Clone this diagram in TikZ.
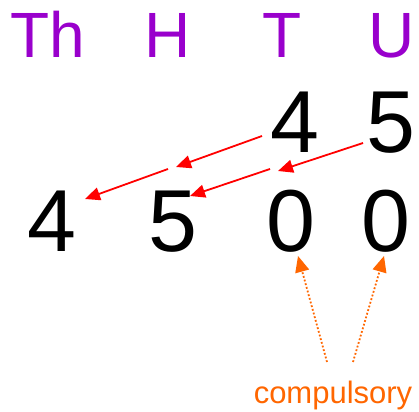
\documentclass[tikz,border=0pt]{standalone}
\usepackage{fontspec}
\setmainfont{Liberation Sans}
\usetikzlibrary{arrows.meta}
\definecolor{hdr}{HTML}{9900CC}
\definecolor{org}{HTML}{FF6600}
\begin{document}
\begin{tikzpicture}[x=1pt,y=-1pt,
  head/.style={anchor=base,inner sep=0pt,text=hdr,font=\fontsize{64}{64}\selectfont},
  digit/.style={anchor=base,inner sep=0pt,font=\fontsize{88}{88}\selectfont},
  movearrow/.style={draw=red,line width=1.8pt,-{Triangle[length=15pt,width=13pt]}},
  comparrow/.style={draw=org,line width=1.8pt,dotted,-{Triangle[length=16pt,width=14pt]}}]
\useasboundingbox (0,0) rectangle (419,411);
% headers
\node[head] (hTh) at (48,58) {Th};
\node[head] (hH) at (168,58) {H};
\node[head] (hT) at (282,58) {T};
\node[head] (hU) at (392,58) {U};
% top number
\node[digit] (t4) at (295,153) {4};
\node[digit] (t5) at (391,153) {5};
% bottom number
\node[digit] (b4) at (52,251) {4};
\node[digit] (b5) at (173,251) {5};
\node[digit] (b0a) at (291,251) {0};
\node[digit] (b0b) at (386,251) {0};
% label
\node[anchor=base,inner sep=0pt,text=org,font=\fontsize{31}{31}\selectfont] (comp) at (333,403) {compulsory};
% arrow coordinates
\coordinate (a1s) at (262,136);
\coordinate (a1e) at (176,167);
\coordinate (a2s) at (168,169);
\coordinate (a2e) at (85,199);
\coordinate (a3s) at (363,143);
\coordinate (a3e) at (278,171);
\coordinate (a4s) at (270,169);
\coordinate (a4e) at (190,196);
\coordinate (c1s) at (327,362);
\coordinate (c1e) at (298,256);
\coordinate (c2s) at (353,362);
\coordinate (c2e) at (384,256);
\draw[movearrow] (a1s) -- (a1e);
\draw[movearrow] (a2s) -- (a2e);
\draw[movearrow] (a3s) -- (a3e);
\draw[movearrow] (a4s) -- (a4e);
\draw[comparrow] (c1s) -- (c1e);
\draw[comparrow] (c2s) -- (c2e);
\end{tikzpicture}
\end{document}
